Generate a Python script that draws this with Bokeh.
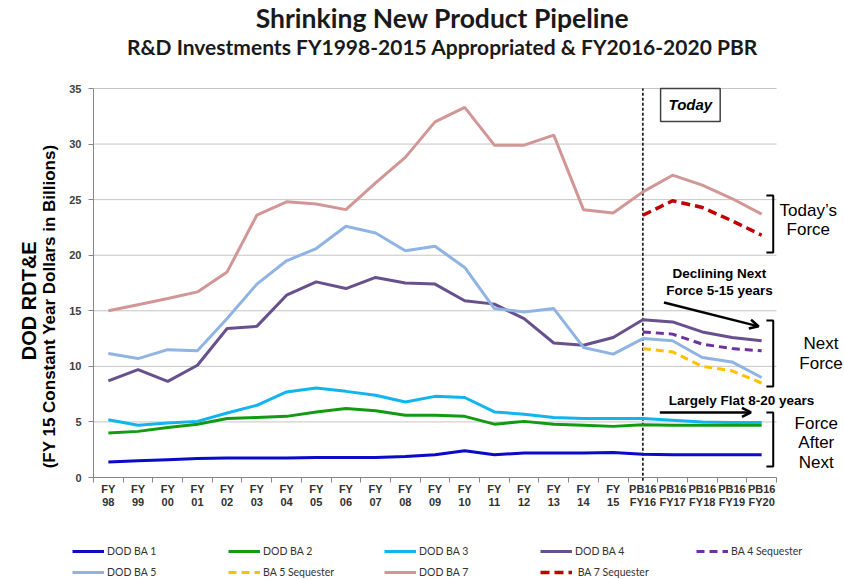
import math
from bokeh.plotting import figure
from bokeh.models import (Range1d, FixedTicker, Label, Arrow, OpenHead,
                          Legend, LegendItem)
from bokeh.embed import file_html
from bokeh.resources import INLINE

# ---------------- data ----------------
fy_labels = ["FY\n98", "FY\n99", "FY\n00", "FY\n01", "FY\n02", "FY\n03", "FY\n04",
             "FY\n05", "FY\n06", "FY\n07", "FY\n08", "FY\n09", "FY\n10", "FY\n11",
             "FY\n12", "FY\n13", "FY\n14", "FY\n15", "PB16\nFY16", "PB16\nFY17",
             "PB16\nFY18", "PB16\nFY19", "PB16\nFY20"]
x_all = list(range(len(fy_labels)))
x_pb = x_all[18:]          # PB16 FY16 - FY20
today_index = 18

ba1 = [1.4, 1.5, 1.6, 1.7, 1.75, 1.75, 1.75, 1.8, 1.8, 1.8, 1.9, 2.05, 2.4, 2.05,
       2.2, 2.2, 2.2, 2.25, 2.1, 2.05, 2.05, 2.05, 2.05]
ba2 = [4.0, 4.15, 4.5, 4.8, 5.3, 5.4, 5.5, 5.9, 6.2, 6.0, 5.6, 5.6, 5.5, 4.8,
       5.05, 4.8, 4.7, 4.6, 4.75, 4.7, 4.7, 4.7, 4.7]
ba3 = [5.2, 4.7, 4.9, 5.05, 5.8, 6.5, 7.7, 8.05, 7.75, 7.4, 6.8, 7.3, 7.2, 5.9,
       5.7, 5.4, 5.3, 5.3, 5.3, 5.15, 5.0, 4.95, 4.95]
ba4 = [8.7, 9.7, 8.65, 10.1, 13.4, 13.6, 16.4, 17.6, 17.0, 18.0, 17.5, 17.4, 15.9,
       15.6, 14.3, 12.1, 11.9, 12.6, 14.2, 14.0, 13.1, 12.6, 12.3]
ba5 = [11.15, 10.7, 11.5, 11.4, 14.3, 17.4, 19.5, 20.6, 22.6, 22.0, 20.4, 20.8,
       18.9, 15.2, 14.9, 15.2, 11.7, 11.1, 12.5, 12.3, 10.8, 10.4, 9.0]
ba7 = [15.0, 15.55, 16.1, 16.7, 18.5, 23.6, 24.8, 24.6, 24.1, 26.5, 28.8, 32.0,
       33.3, 29.9, 29.9, 30.8, 24.1, 23.8, 25.7, 27.2, 26.3, 25.1, 23.7]
ba4_seq = [13.1, 12.9, 12.0, 11.6, 11.4]
ba5_seq = [11.6, 11.3, 10.0, 9.6, 8.5]
ba7_seq = [23.6, 24.9, 24.3, 23.1, 21.8]

y_ticks = [0, 5, 10, 15, 20, 25, 30, 35]

title_text = "Shrinking New Product Pipeline"
subtitle_text = "R&D Investments FY1998-2015 Appropriated & FY2016-2020 PBR"
ylabel_main = "DOD RDT&E"
ylabel_sub = "(FY 15 Constant Year Dollars in Billions)"

# ---------------- figure (frame covers whole canvas) ----------------
W, H = 844, 579
plot_left, plot_right, plot_top, plot_bottom = 93, 776, 88, 477
ux = (plot_right - plot_left) / 23.0
uy = (plot_bottom - plot_top) / 35.0
x_range = Range1d(-0.5 - plot_left / ux, 22.5 + (W - plot_right) / ux)
y_range = Range1d(-(H - plot_bottom) / uy, 35 + plot_top / uy)

p = figure(width=W, height=H, output_backend="svg", toolbar_location=None,
           x_range=x_range, y_range=y_range, min_border=0, title=None)
p.outline_line_color = None
p.background_fill_color = "white"
p.xgrid.visible = False
p.ygrid.visible = False

# gridlines limited to the data area
grid_y = [t for t in y_ticks if t > 0]
p.segment(x0=[-0.5] * len(grid_y), y0=grid_y, x1=[22.5] * len(grid_y), y1=grid_y,
          line_color="#c4c4c4", line_width=1)

# axes
xa = p.xaxis[0]
xa.fixed_location = 0
xa.ticker = FixedTicker(ticks=x_all, minor_ticks=[i - 0.5 for i in range(len(x_all) + 1)])
xa.bounds = (-0.5, 22.5)
xa.major_label_overrides = {i: lab for i, lab in enumerate(fy_labels)}
xa.major_tick_out = 0
xa.major_tick_in = 0
xa.minor_tick_out = 5
xa.minor_tick_in = 0
xa.minor_tick_line_color = "#868686"
xa.axis_line_color = "#868686"
xa.major_label_text_font = "Liberation Sans"
xa.major_label_text_font_style = "bold"
xa.major_label_text_font_size = "11px"
xa.major_label_text_line_height = 1.1
xa.major_label_text_color = "#303030"
xa.major_label_standoff = 0

ya = p.yaxis[0]
ya.fixed_location = -0.5
ya.ticker = FixedTicker(ticks=y_ticks, minor_ticks=[])
ya.bounds = (0, 35)
ya.major_tick_out = 5
ya.major_tick_in = 0
ya.major_tick_line_color = "#868686"
ya.axis_line_color = "#868686"
ya.major_label_text_font = "Liberation Sans"
ya.major_label_text_font_style = "bold"
ya.major_label_text_font_size = "11px"
ya.major_label_text_color = "#404040"
ya.major_label_standoff = 7

# vertical "today" line
p.segment(x0=[today_index], y0=[-0.3], x1=[today_index], y1=[35],
          line_color="black", line_dash="3 2", line_width=1.5)

# ---------------- series ----------------
r1 = p.line(x_all, ba1, line_color="#0a0ac8", line_width=3)
r2 = p.line(x_all, ba2, line_color="#129a12", line_width=3)
r3 = p.line(x_all, ba3, line_color="#12b4ee", line_width=3)
r4 = p.line(x_all, ba4, line_color="#68508f", line_width=3)
r4s = p.line(x_pb, ba4_seq, line_color="#7030a0", line_width=3, line_dash="8 5")
r5 = p.line(x_all, ba5, line_color="#8fb4e3", line_width=3)
r5s = p.line(x_pb, ba5_seq, line_color="#ffc000", line_width=3, line_dash="8 5")
r7 = p.line(x_all, ba7, line_color="#d29696", line_width=3)
r7s = p.line(x_pb, ba7_seq, line_color="#c00000", line_width=3.5, line_dash="9 5")

legend = Legend(items=[
    LegendItem(label="DOD BA 1", renderers=[r1]),
    LegendItem(label="DOD BA 2", renderers=[r2]),
    LegendItem(label="DOD BA 3", renderers=[r3]),
    LegendItem(label="DOD BA 4", renderers=[r4]),
    LegendItem(label="BA 4 Sequester", renderers=[r4s]),
    LegendItem(label="DOD BA 5", renderers=[r5]),
    LegendItem(label="BA 5 Sequester", renderers=[r5s]),
    LegendItem(label="DOD BA 7", renderers=[r7]),
    LegendItem(label=" BA 7 Sequester", renderers=[r7s]),
], location=(72, -2), orientation="horizontal", ncols=5,
    glyph_width=32, glyph_height=18, label_height=18, label_width=118,
    label_standoff=3, spacing=3, padding=0, margin=0,
    border_line_color=None, background_fill_alpha=0,
    label_text_font="Lato", label_text_font_size="10.5px",
    label_text_color="#333333")
p.add_layout(legend)

# ---------------- texts ----------------
def lab(x, y, text, size, font="Liberation Sans", style="normal", color="black",
        angle=0.0, **kw):
    p.add_layout(Label(x=x, y=y, text=text, text_font=font, text_font_size=size,
                       text_font_style=style, text_color=color, angle=angle,
                       text_align="center", text_baseline="middle", **kw))

lab(11.25, 41.3, title_text, "26.5px", font="Lato", style="bold", color="#1a1a1a")
lab(11.25, 38.75, subtitle_text, "21px", font="Lato", style="bold", color="#1a1a1a")
lab(-2.66, 15.9, ylabel_main, "20px", style="bold", angle=math.pi / 2)
lab(-1.99, 15.4, ylabel_sub, "17px", style="bold", angle=math.pi / 2)

lab(19.6, 33.52, "Today", "15px", style="bold italic",
    border_line_color="#404040", border_line_width=1.5,
    background_fill_color="white", padding=8)

lab(23.57, 24.0, "Today\u2019s", "17px")
lab(23.57, 22.3, "Force", "17px")
lab(20.58, 18.36, "Declining Next", "13.5px", style="bold")
lab(20.58, 16.83, "Force 5-15 years", "13.5px", style="bold")
lab(24.0, 12.06, "Next", "17px")
lab(24.0, 10.26, "Force", "17px")
lab(21.32, 6.93, "Largely Flat 8-20 years", "13.5px", style="bold")
lab(23.84, 4.86, "Force", "17px")
lab(23.84, 3.15, "After", "17px")
lab(23.84, 1.35, "Next", "17px")

# arrows
p.add_layout(Arrow(end=OpenHead(size=9, line_width=2.5, line_color="black"),
                   x_start=18.71, y_start=15.75, x_end=21.9, y_end=13.6,
                   line_width=2.5, line_color="black"))
p.add_layout(Arrow(end=OpenHead(size=9, line_width=2.5, line_color="black"),
                   x_start=18.57, y_start=5.85, x_end=21.64, y_end=5.85,
                   line_width=2.5, line_color="black"))

# brackets
brackets = [(25.37, 20.24), (14.13, 8.19), (5.85, 0.99)]
for top, bot in brackets:
    p.line([22.16, 22.39, 22.39, 22.16], [top, top, bot, bot],
           line_color="black", line_width=2)

open("out.html", "w").write(file_html(p, INLINE))
